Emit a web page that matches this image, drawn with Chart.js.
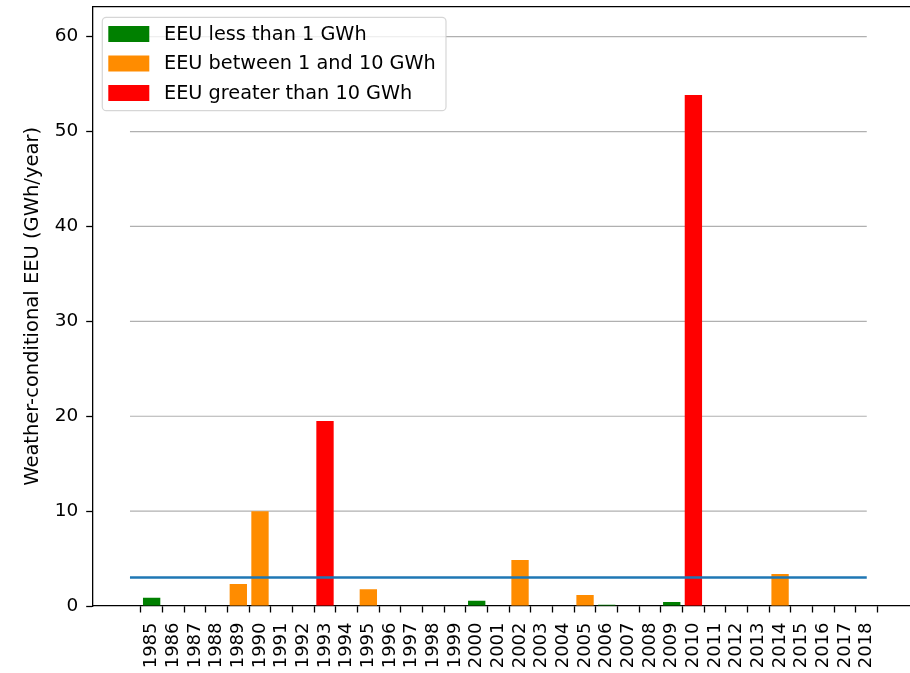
<!DOCTYPE html>
<html>
<head>
<meta charset="utf-8">
<title>Weather-conditional EEU</title>
<script src="https://cdn.jsdelivr.net/npm/chart.js@4/dist/chart.umd.min.js"></script>
<style>
  html, body { margin: 0; padding: 0; background: #ffffff; overflow: hidden; }
  #wrap { position: absolute; left: 0; top: 0; width: 916px; height: 673px; }
</style>
</head>
<body>
<div id="wrap"><canvas id="chart" width="916" height="673"></canvas></div>
<script>
// Weather years and the expected energy unserved (GWh/year) for each
const years = [1985, 1986, 1987, 1988, 1989, 1990, 1991, 1992, 1993, 1994,
               1995, 1996, 1997, 1998, 1999, 2000, 2001, 2002, 2003, 2004,
               2005, 2006, 2007, 2008, 2009, 2010, 2011, 2012, 2013, 2014,
               2015, 2016, 2017, 2018];
const eeu = [0.87, 0, 0, 0, 2.32, 9.98, 0, 0, 19.5, 0,
             1.76, 0, 0, 0, 0, 0.56, 0, 4.85, 0, 0,
             1.16, 0.14, 0, 0, 0.42, 53.86, 0, 0, 0, 3.37,
             0, 0, 0, 0];

// Reliability standard drawn as a horizontal reference line
const standardValue = 3;
const standardSpan = [1984, 2018];

// Value axis ticks
const yTickValues = [0, 10, 20, 30, 40, 50, 60];

// Severity classes
const classLabels = ['EEU less than 1 GWh', 'EEU between 1 and 10 GWh', 'EEU greater than 10 GWh'];
const classColors = ['#008000', '#ff8c00', '#ff0000'];
const classOf = v => (v < 1 ? 0 : (v <= 10 ? 1 : 2));

const FONT = 'DejaVu Sans';

const barSets = classLabels.map((label, k) => ({
  type: 'bar',
  label: label,
  data: years.map((yr, i) => ({ x: yr, y: eeu[i] })).filter(p => classOf(p.y) === k),
  backgroundColor: classColors[k],
  borderWidth: 0,
  grouped: false,
  barPercentage: 0.8,
  categoryPercentage: 1.0,
  order: 2
}));

const standardLine = {
  type: 'line',
  label: 'standard',
  data: [{ x: standardSpan[0], y: standardValue }, { x: standardSpan[1], y: standardValue }],
  borderColor: '#1f77b4',
  borderWidth: 2.6,
  pointRadius: 0,
  fill: false,
  order: 1
};

// Horizontal grid lines restricted to the span of the weather years, plus the top frame
const framePlugin = {
  id: 'frame',
  beforeDatasetsDraw(chart) {
    const { ctx, scales } = chart;
    const x0 = scales.x.getPixelForValue(standardSpan[0]);
    const x1 = scales.x.getPixelForValue(standardSpan[1]);
    ctx.save();
    ctx.strokeStyle = '#b0b0b0';
    ctx.lineWidth = 1.2;
    yTickValues.forEach(v => {
      if (v === 0) return;
      const y = scales.y.getPixelForValue(v);
      ctx.beginPath();
      ctx.moveTo(x0, y);
      ctx.lineTo(x1, y);
      ctx.stroke();
    });
    ctx.restore();
  },
  afterDatasetsDraw(chart) {
    const { ctx, chartArea } = chart;
    ctx.save();
    ctx.strokeStyle = '#000000';
    ctx.lineWidth = 1.3;
    ctx.beginPath();
    ctx.moveTo(chartArea.left, chartArea.top);
    ctx.lineTo(chartArea.right, chartArea.top);
    ctx.lineTo(chartArea.right, chartArea.bottom);
    ctx.stroke();
    ctx.restore();
  }
};

// Legend box in the upper-left corner of the plot
const legendPlugin = {
  id: 'cornerLegend',
  afterDraw(chart) {
    const { ctx, chartArea } = chart;
    const bx = chartArea.left + 9.6;
    const by = chartArea.top + 10.6;
    const bw = 343.7;
    const bh = 93.4;
    const r = 4;
    ctx.save();
    ctx.beginPath();
    ctx.moveTo(bx + r, by);
    ctx.lineTo(bx + bw - r, by);
    ctx.arcTo(bx + bw, by, bx + bw, by + r, r);
    ctx.lineTo(bx + bw, by + bh - r);
    ctx.arcTo(bx + bw, by + bh, bx + bw - r, by + bh, r);
    ctx.lineTo(bx + r, by + bh);
    ctx.arcTo(bx, by + bh, bx, by + bh - r, r);
    ctx.lineTo(bx, by + r);
    ctx.arcTo(bx, by, bx + r, by, r);
    ctx.closePath();
    ctx.fillStyle = 'rgba(255,255,255,0.8)';
    ctx.fill();
    ctx.strokeStyle = 'rgba(204,204,204,0.8)';
    ctx.lineWidth = 1.2;
    ctx.stroke();

    ctx.font = '19.3px "' + FONT + '"';
    ctx.textBaseline = 'middle';
    ctx.textAlign = 'left';
    barSets.forEach((ds, k) => {
      const sy = by + 8.7 + k * 29.5;
      ctx.fillStyle = ds.backgroundColor;
      ctx.fillRect(bx + 6, sy, 41, 16);
      ctx.fillStyle = '#000000';
      ctx.fillText(ds.label, bx + 61.7, sy + 8.5);
    });
    ctx.restore();
  }
};

new Chart(document.getElementById('chart'), {
  data: { datasets: [standardLine, ...barSets] },
  options: {
    responsive: false,
    devicePixelRatio: 1,
    animation: false,
    layout: { padding: { left: 0, top: 6.7, right: 3.3, bottom: 0 } },
    plugins: { legend: { display: false }, tooltip: { enabled: false } },
    scales: {
      x: {
        type: 'linear',
        offset: false,
        min: 1982.28,
        max: 2020.12,
        afterBuildTicks(scale) { scale.ticks = years.map(v => ({ value: v })); },
        afterFit(scale) {
          scale.height = 67;
          scale.paddingLeft = 0; scale.paddingRight = 0;
          scale.paddingTop = 0; scale.paddingBottom = 0;
        },
        grid: { drawOnChartArea: false, tickLength: 6.5, tickColor: '#000000', tickWidth: 1.3 },
        border: { display: true, color: '#000000', width: 1.3 },
        ticks: {
          autoSkip: false,
          minRotation: 90,
          maxRotation: 90,
          padding: 10,
          color: '#000000',
          font: { family: FONT, size: 18 },
          callback: v => String(v)
        }
      },
      y: {
        type: 'linear',
        min: 0,
        max: 63.16,
        afterBuildTicks(scale) { scale.ticks = yTickValues.map(v => ({ value: v })); },
        afterFit(scale) {
          scale.width = 92.7;
          scale.paddingLeft = 0; scale.paddingRight = 0;
          scale.paddingTop = 0; scale.paddingBottom = 0;
        },
        grid: { drawOnChartArea: false, tickLength: 6.5, tickColor: '#000000', tickWidth: 1.3 },
        border: { display: true, color: '#000000', width: 1.3 },
        ticks: {
          padding: 8,
          color: '#000000',
          font: { family: FONT, size: 18.5 },
          callback: v => String(v)
        },
        title: {
          display: true,
          text: 'Weather-conditional EEU (GWh/year)',
          color: '#000000',
          font: { family: FONT, size: 19.5, lineHeight: 1.2 },
          padding: { top: 21.3, bottom: 0 }
        }
      }
    }
  },
  plugins: [framePlugin, legendPlugin]
});
</script>
</body>
</html>
